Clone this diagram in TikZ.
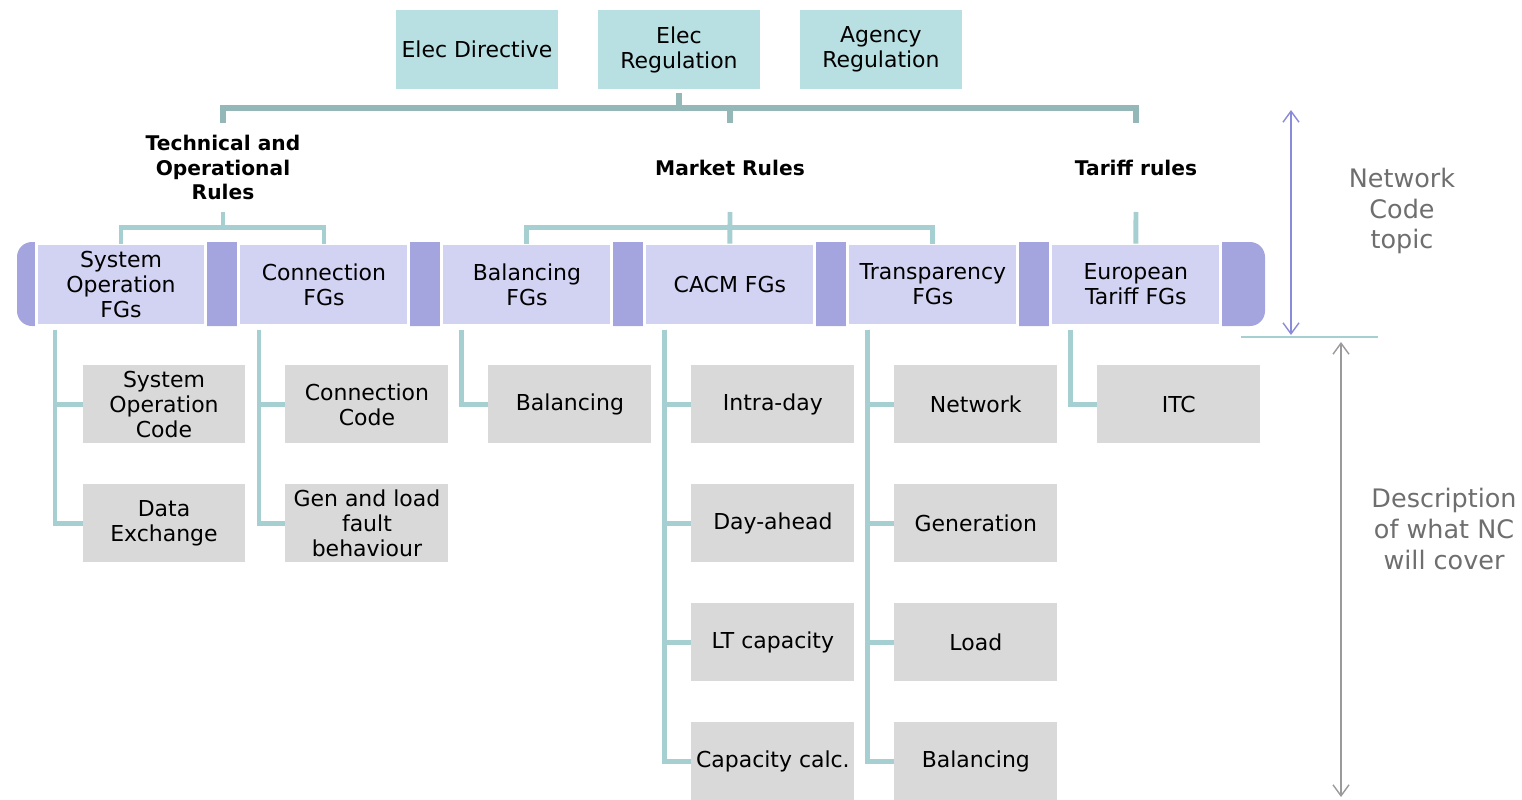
\documentclass[tikz,border=0pt]{standalone}
\usepackage{fontspec}
\setmainfont{DejaVu Sans}
\usetikzlibrary{positioning,arrows.meta}

\definecolor{lawfill}{HTML}{B8E0E2}
\definecolor{busline}{HTML}{94B8B8}
\definecolor{tealline}{HTML}{A6CFD1}
\definecolor{fgdark}{HTML}{A4A4DE}
\definecolor{fglight}{HTML}{D2D2F2}
\definecolor{codefill}{HTML}{D9D9D9}
\definecolor{topicarrow}{HTML}{8A8ADB}
\definecolor{coverarrow}{HTML}{9A9A9A}
\definecolor{sidetext}{HTML}{6E6E6E}

\tikzset{
  law/.style={fill=lawfill, minimum width=3.24cm, minimum height=1.58cm, align=center,
    inner sep=0pt, outer sep=0pt, font=\fontsize{12.5}{14.2}\selectfont},
  rules/.style={minimum width=3.4cm, minimum height=1.78cm, align=center,
    inner sep=0pt, outer sep=0pt, font=\fontsize{11.5}{14.2}\selectfont\bfseries},
  fg/.style={fill=fglight, draw=white, line width=1.7pt, minimum width=3.4cm,
    minimum height=1.64cm, align=center, inner sep=0pt, outer sep=0pt,
    font=\fontsize{12.5}{14.2}\selectfont},
  code/.style={fill=codefill, minimum width=3.26cm, minimum height=1.56cm, align=center,
    inner sep=0pt, outer sep=0pt, font=\fontsize{12.5}{14.2}\selectfont},
  link/.style={tealline, line width=2.8pt},
  toplink/.style={busline, line width=3.2pt},
  side/.style={text=sidetext, align=center, font=\fontsize{14.5}{17.6}\selectfont},
  span/.style={line width=0.8pt, {Straight Barb[length=0.22cm,width=0.32cm]}-{Straight Barb[length=0.22cm,width=0.32cm]}},
}

\begin{document}
\begin{tikzpicture}[x=0.02cm, y=-0.02cm, node distance=0.82cm]

  \useasboundingbox (0,0) rectangle (1522,799);

  % Define nodes
  \node[law] (elecdir) at (477,49.5) {Elec Directive};
  \node[law, right=0.8cm of elecdir] (elecreg) {Elec\\Regulation};
  \node[law, right=0.8cm of elecreg] (agency) {Agency\\Regulation};

  \node[rules] (tech) at (223,167.5) {Technical and\\Operational\\Rules};
  \node[rules] (market) at (730,167.5) {Market Rules};
  \node[rules] (tariff) at (1136,167.5) {Tariff rules};

  % the purple band behind the FGs
  \fill[fgdark, rounded corners=0.3cm] (17,242) rectangle (1265,326);

  \node[fg] (sysfg) at (121,284.5) {System\\Operation\\FGs};
  \node[fg, right=0.66cm of sysfg] (confg) {Connection\\FGs};
  \node[fg, right=0.66cm of confg] (balfg) {Balancing\\FGs};
  \node[fg, right=0.66cm of balfg] (cacmfg) {CACM FGs};
  \node[fg, right=0.66cm of cacmfg] (transfg) {Transparency\\FGs};
  \node[fg, right=0.66cm of transfg] (tarfg) {European\\Tariff FGs};

  \node[code, below=0.8cm of sysfg, xshift=0.86cm] (soc) {System\\Operation\\Code};
  \node[code, below=of soc] (dataex) {Data\\Exchange};

  \node[code, below=0.8cm of confg, xshift=0.86cm] (concode) {Connection\\Code};
  \node[code, below=of concode] (genload) {Gen and load\\fault\\behaviour};

  \node[code, below=0.8cm of balfg, xshift=0.86cm] (balcode) {Balancing};

  \node[code, below=0.8cm of cacmfg, xshift=0.86cm] (intraday) {Intra-day};
  \node[code, below=of intraday] (dayahead) {Day-ahead};
  \node[code, below=of dayahead] (ltcap) {LT capacity};
  \node[code, below=of ltcap] (capcalc) {Capacity calc.};

  \node[code, below=0.8cm of transfg, xshift=0.86cm] (network) {Network};
  \node[code, below=of network] (gener) {Generation};
  \node[code, below=of gener] (load) {Load};
  \node[code, below=of load] (transbal) {Balancing};

  \node[code, below=0.8cm of tarfg, xshift=0.86cm] (itc) {ITC};

  \node[side] (topic) at (1402,211) {Network\\Code\\topic};
  \node[side] (cover) at (1444,529) {Description\\of what NC\\will cover};

  \coordinate (topicT) at (1291,110);
  \coordinate (topicB) at (1291,335);
  \coordinate (splitL) at (1241,337);
  \coordinate (splitR) at (1378,337);
  \coordinate (coverT) at (1341,342);
  \coordinate (coverB) at (1341,797);

  % Connect the nodes
  \draw[toplink] (elecreg.south) ++(0,4) -- ++(0,15);
  \draw[toplink] (tech.north) -- ++(0,-15) -| (tariff.north);
  \draw[toplink] (market.north) -- ++(0,-15);

  \draw[link] (tech.south) -- ++(0,16);
  \draw[link] (sysfg.north) -- ++(0,-16) -| (confg.north);
  \draw[link] (balfg.north) -- ++(0,-16) -| (transfg.north);
  \draw[link] (market.south) -- (cacmfg.north);
  \draw[link] (tariff.south) -- (tarfg.north);

  \draw[link] (sysfg.south) ++(-66,4) |- (soc.west);
  \draw[link] (sysfg.south) ++(-66,4) |- (dataex.west);
  \draw[link] (confg.south) ++(-65,4) |- (concode.west);
  \draw[link] (confg.south) ++(-65,4) |- (genload.west);
  \draw[link] (balfg.south) ++(-65,4) |- (balcode.west);
  \draw[link] (cacmfg.south) ++(-65,4) |- (intraday.west);
  \draw[link] (cacmfg.south) ++(-65,4) |- (dayahead.west);
  \draw[link] (cacmfg.south) ++(-65,4) |- (ltcap.west);
  \draw[link] (cacmfg.south) ++(-65,4) |- (capcalc.west);
  \draw[link] (transfg.south) ++(-65,4) |- (network.west);
  \draw[link] (transfg.south) ++(-65,4) |- (gener.west);
  \draw[link] (transfg.south) ++(-65,4) |- (load.west);
  \draw[link] (transfg.south) ++(-65,4) |- (transbal.west);
  \draw[link] (tarfg.south) ++(-65,4) |- (itc.west);

  \draw[span, topicarrow] (topicT) -- (topicB);
  \draw[tealline, line width=1.4pt] (splitL) -- (splitR);
  \draw[span, coverarrow] (coverT) -- (coverB);

\end{tikzpicture}
\end{document}
